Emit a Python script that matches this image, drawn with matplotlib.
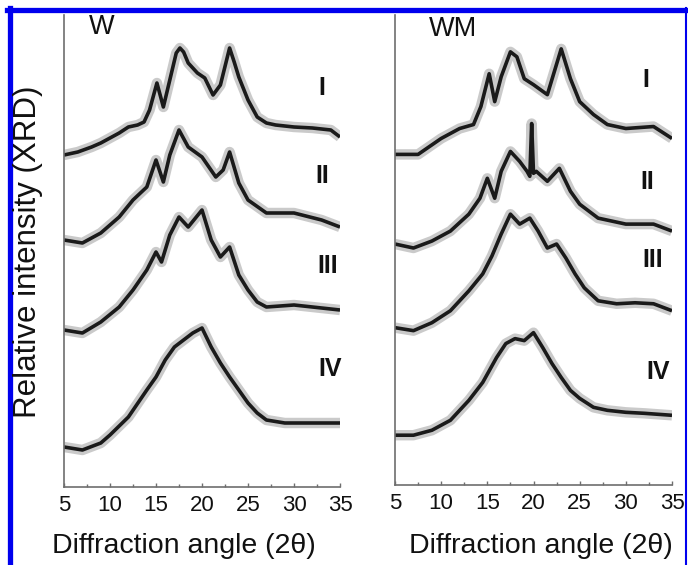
import matplotlib
matplotlib.use("Agg")
import matplotlib.pyplot as plt
from matplotlib.lines import Line2D

plt.rcParams['font.family'] = ['Liberation Sans', 'DejaVu Sans']

# ---- Data (angle 2θ, relative intensity) ----
w_I_x = [5, 6.5, 8, 9, 10, 11, 12, 13, 13.7, 14.3, 15.1, 15.8, 16.5, 17.2, 17.6, 18, 18.5, 19.5, 20.3, 21.2, 22, 23, 23.5, 24, 25, 26, 27, 28, 30, 32, 34, 35]
w_I_y = [332, 335, 340, 344, 349, 354, 360, 362, 365, 377, 404, 380, 407, 434, 439, 435, 424, 414, 409, 392, 402, 439, 425, 410, 387, 370, 364, 362, 360, 359, 357, 350]

w_II_x = [5, 7, 9, 11, 12.5, 14, 15, 15.8, 16.5, 17.5, 18.5, 20, 21.5, 22.3, 23, 24, 25, 27, 30, 33, 35]
w_II_y = [247, 244, 254, 270, 287, 300, 327, 305, 332, 357, 340, 330, 310, 317, 335, 304, 287, 274, 274, 267, 260]

w_III_x = [5, 7, 9, 11, 12.5, 14, 15, 15.6, 16.5, 17.5, 18.5, 20, 21, 22, 23, 24, 25, 26, 27, 30, 35]
w_III_y = [157, 154, 165, 180, 197, 217, 235, 225, 252, 270, 260, 277, 247, 230, 240, 212, 197, 185, 180, 182, 177]

w_IV_x = [5, 7, 9, 10, 12, 14, 15, 16, 17, 18, 19, 20, 21, 22, 23, 24, 25, 26, 27, 29, 32, 35]
w_IV_y = [40, 37, 44, 52, 70, 97, 110, 127, 140, 147, 154, 159, 140, 124, 110, 97, 84, 74, 67, 64, 64, 64]

wm_I_x = [5, 7.5, 10, 12, 13.5, 14.3, 15.2, 15.8, 16.5, 17.5, 18.2, 19, 20, 21.5, 23, 24, 25, 26.5, 28, 30, 33, 35]
wm_I_y = [332, 332, 348, 358, 362, 380, 413, 385, 410, 435, 430, 408, 402, 392, 438, 408, 385, 372, 362, 358, 360, 348]

wm_II_x = [5, 7, 9, 11, 13, 14.2, 15, 15.8, 16.5, 17.5, 18.5, 19.3, 19.6, 19.8, 20.0, 20.3, 21.5, 22.8, 24, 25, 27, 30, 33, 35]
wm_II_y = [242, 238, 245, 255, 272, 288, 308, 288, 315, 335, 325, 315, 310, 363, 313, 315, 305, 318, 295, 282, 268, 262, 262, 255]

wm_III_x = [5, 7, 9, 11, 13, 14.5, 15.5, 16.5, 17.5, 18.5, 19.6, 20.5, 21.5, 22.5, 23.5, 24.5, 25.5, 27, 29, 31, 33, 35]
wm_III_y = [158, 155, 163, 175, 195, 212, 230, 252, 272, 262, 268, 255, 238, 242, 228, 212, 198, 185, 182, 183, 182, 175]

wm_IV_x = [5, 7, 9, 11, 13, 14.5, 16, 17, 18, 19, 20, 21, 22, 23, 24, 25, 26.5, 28, 30, 32, 35]
wm_IV_y = [50, 50, 55, 65, 85, 103, 128, 142, 147, 145, 153, 138, 122, 108, 95, 87, 78, 75, 73, 72, 70]

sample_labels = ["I", "II", "III", "IV"]
panel_titles = ["W", "WM"]
xticks = [5, 10, 15, 20, 25, 30, 35]

W = 688; H = 565
fig = plt.figure(figsize=(W / 100, H / 100), dpi=100)


def fx(px):
    return px / W


def fy(py):
    return 1 - py / H


ax1 = fig.add_axes([fx(64), fy(487), fx(340) - fx(64), fy(15) - fy(487)])
ax2 = fig.add_axes([fx(395), fy(485), fx(672) - fx(395), fy(15) - fy(485)])

panels = [
    (ax1, [(w_I_x, w_I_y), (w_II_x, w_II_y), (w_III_x, w_III_y), (w_IV_x, w_IV_y)]),
    (ax2, [(wm_I_x, wm_I_y), (wm_II_x, wm_II_y), (wm_III_x, wm_III_y), (wm_IV_x, wm_IV_y)]),
]

for ax, curves in panels:
    for xs, ys in curves:
        ax.plot(xs, ys, color='#8a8a8a', lw=7.5, alpha=0.45, solid_joinstyle='round', solid_capstyle='butt')
        ax.plot(xs, ys, color='#1a1a1a', lw=2.6, solid_joinstyle='round', solid_capstyle='butt')
    ax.set_xlim(5, 35)
    ax.set_ylim(0, 472)
    for s in ['top', 'right']:
        ax.spines[s].set_visible(False)
    for s in ['left', 'bottom']:
        ax.spines[s].set_color('#6e6e6e')
        ax.spines[s].set_linewidth(1.2)
    ax.set_yticks([])
    ax.set_xticks(xticks)
    ax.set_xticks([7.5, 12.5, 17.5, 22.5, 27.5, 32.5], minor=True)
    ax.tick_params(axis='x', which='major', direction='in', length=3, width=1, color='#6e6e6e',
                   labelsize=16, pad=6, labelcolor='#111111')
    ax.tick_params(axis='x', which='minor', direction='in', length=2, width=1, color='#6e6e6e')
    ax.set_facecolor('white')

# X labels
fig.text(fx(184), fy(553), "Diffraction angle (2θ)", fontsize=20.5, ha='center', va='baseline', color='#111111')
fig.text(fx(541), fy(553), "Diffraction angle (2θ)", fontsize=20.5, ha='center', va='baseline', color='#111111')

# Panel titles
fig.text(fx(102), fy(27), panel_titles[0], fontsize=19.5, ha='center', va='center', color='#111111')
fig.text(fx(453), fy(29), panel_titles[1], fontsize=19.5, ha='center', va='center', color='#111111')

# Sample labels
w_lab_pos = [(322, 88), (322, 176), (328, 266), (330, 369)]
wm_lab_pos = [(646, 80), (647, 182), (653, 260), (658, 372)]
for lab, (px, py) in zip(sample_labels, w_lab_pos):
    fig.text(fx(px), fy(py), lab, fontsize=18, fontweight='bold', ha='center', va='center', color='#111111')
for lab, (px, py) in zip(sample_labels, wm_lab_pos):
    fig.text(fx(px), fy(py), lab, fontsize=18, fontweight='bold', ha='center', va='center', color='#111111')

# Y label
fig.text(fx(28), fy(252), "Relative intensity (XRD)", fontsize=22.5, rotation=90,
         ha='center', va='center', color='#111111')

# Blue frame
blue = '#0000ee'
fig.add_artist(Line2D([fx(9.5), fx(9.5)], [fy(8), 0], color=blue, lw=3.8, transform=fig.transFigure))
fig.add_artist(Line2D([fx(7), fx(688)], [fy(9.5), fy(9.5)], color=blue, lw=3.8, transform=fig.transFigure))
fig.add_artist(Line2D([fx(686), fx(686)], [fy(8), 0], color=blue, lw=1.5, transform=fig.transFigure))

fig.savefig("out.png", dpi=100)
